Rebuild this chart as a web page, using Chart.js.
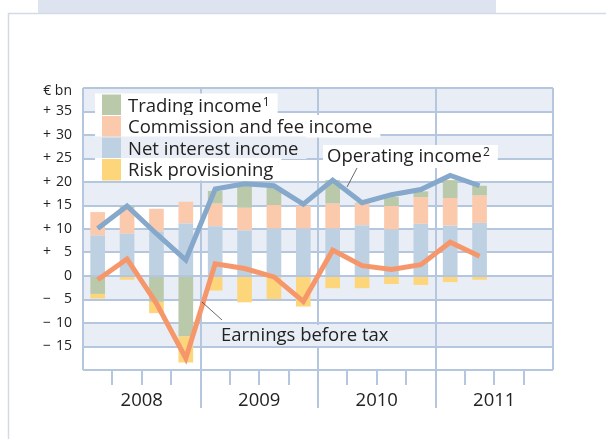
<!DOCTYPE html>
<html>
<head>
<meta charset="utf-8">
<script src="https://cdn.jsdelivr.net/npm/chart.js@4.4.1/dist/chart.umd.min.js"></script>
<style>
html, body { margin: 0; padding: 0; background: #fff; }
#wrap { position: relative; width: 606px; height: 439px; }
</style>
</head>
<body>
<div id="wrap"><canvas id="earningsChart" width="606" height="439"></canvas></div>
<script>
// quarterly figures, 2008 Q1 - 2011 Q2 (axis runs to 2011 Q4)
const quarters = ['Q1 2008', 'Q2 2008', 'Q3 2008', 'Q4 2008',
                  'Q1 2009', 'Q2 2009', 'Q3 2009', 'Q4 2009',
                  'Q1 2010', 'Q2 2010', 'Q3 2010', 'Q4 2010',
                  'Q1 2011', 'Q2 2011', 'Q3 2011', 'Q4 2011'];
const years = ['2008', '2009', '2010', '2011'];
const yTicks = [35, 30, 25, 20, 15, 10, 5, 0, -5, -10, -15];

const netInterest = [8.6, 9.0, 9.5, 11.2, 10.6, 9.7, 10.1, 10.1, 10.1, 10.8, 9.9, 11.1, 10.7, 11.3];
const commission  = [5.0, 5.4, 4.8, 4.6, 4.8, 4.8, 5.0, 4.8, 5.3, 4.6, 5.0, 5.7, 5.9, 5.8];
const trading     = [-3.8, 0.4, -5.5, -12.8, 2.7, 4.7, 3.8, 0.0, 5.0, 0.2, 1.9, 1.2, 3.8, 2.1];
const riskProv    = [-1.0, -0.8, -2.4, -5.6, -3.1, -5.6, -4.9, -6.5, -2.6, -2.6, -1.7, -1.9, -1.3, -0.8];
const operating   = [10.1, 14.9, 9.0, 3.4, 18.5, 19.6, 19.2, 15.3, 20.4, 15.6, 17.3, 18.4, 21.4, 19.2];
const earnings    = [-0.8, 3.6, -5.8, -17.5, 2.6, 1.6, -0.2, -5.4, 5.5, 2.2, 1.4, 2.4, 7.2, 4.2];

const bandColor = '#e9eef6';
const gridColor = '#b5c7df';
const textColor = '#222';
const FONT = '"Open Sans", "Noto Sans", sans-serif';
const LABEL_FONT = '18.5px ' + FONT;

// text with an optional footnote number raised after it
function drawLabel(c, text, sup, x, y) {
    c.font = LABEL_FONT;
    c.fillText(text, x, y);
    if (sup) {
        const w = c.measureText(text).width;
        c.font = '12px ' + FONT;
        c.fillText(sup, x + w + 1, y - 4);
        c.font = LABEL_FONT;
    }
}
function labelWidth(c, text, sup) {
    c.font = LABEL_FONT;
    let w = c.measureText(text).width;
    if (sup) {
        c.font = '12px ' + FONT;
        w += c.measureText(sup).width + 1;
        c.font = LABEL_FONT;
    }
    return w;
}

// backdrop: outer frame + alternating bands, axis lines, texts
const bands = {
    id: 'bands',
    beforeDraw(chart) {
        const c = chart.ctx;
        const a = chart.chartArea;
        const y = chart.scales.y;
        c.save();
        c.fillStyle = '#fff';
        c.fillRect(0, 0, chart.width, chart.height);
        c.fillStyle = '#dde4ef';
        c.fillRect(38, 0, 458, 13);
        c.strokeStyle = '#d2dae6';
        c.lineWidth = 1.5;
        c.strokeRect(8.5, 13.5, chart.width, chart.height);
        c.fillStyle = bandColor;
        for (let v = 40; v > -20; v -= 10) {
            const top = y.getPixelForValue(v);
            const bot = y.getPixelForValue(v - 5);
            c.fillRect(a.left, top, a.right - a.left, bot - top);
        }
        c.restore();
    },
    beforeDatasetsDraw(chart) {
        const c = chart.ctx;
        const a = chart.chartArea;
        const x = chart.scales.x;
        const half = (x.getPixelForValue(1) - x.getPixelForValue(0)) / 2;
        c.save();
        c.strokeStyle = gridColor;
        c.lineWidth = 2;
        for (let i = 0; i <= quarters.length; i++) {
            const px = Math.round(x.getPixelForValue(i) - half);
            c.beginPath();
            if (i === 0 || i === quarters.length) {
                c.moveTo(px, a.top); c.lineTo(px, a.bottom);
            } else if (i % 4 === 0) {
                c.moveTo(px, a.top); c.lineTo(px, a.bottom + 38);
            } else {
                c.moveTo(px, a.bottom); c.lineTo(px, a.bottom + 15);
            }
            c.stroke();
        }
        c.restore();
    },
    afterDatasetsDraw(chart) {
        const c = chart.ctx;
        const x = chart.scales.x;
        const y = chart.scales.y;
        c.save();

        // y tick labels, sign and figures in separate columns
        c.fillStyle = textColor;
        c.font = '14px ' + FONT;
        c.textBaseline = 'middle';
        yTicks.forEach(v => {
            const py = y.getPixelForValue(v);
            const sign = v > 0 ? '+' : (v < 0 ? '\u2212' : '');
            c.textAlign = 'left';
            c.fillText(sign, 43, py);
            c.textAlign = 'right';
            c.fillText(String(Math.abs(v)), 72, py);
        });
        c.textAlign = 'right';
        c.fillText('\u20ac bn', 72, 91);

        // year labels
        c.font = LABEL_FONT;
        c.textAlign = 'center';
        years.forEach((yr, k) => {
            c.fillText(yr, x.getPixelForValue(k * 4 + 1.5), 401);
        });

        // legend block
        const ds = chart.data.datasets;
        const rows = [
            { ds: ds[2], text: 'Trading income', sup: '1', bg: '#fff' },
            { ds: ds[1], text: 'Commission and fee income', sup: '', bg: '#fff' },
            { ds: ds[0], text: 'Net interest income', sup: '', bg: bandColor },
            { ds: ds[3], text: 'Risk provisioning', sup: '', bg: '#fff' }
        ];
        const rowH = 21.5;
        const top0 = 94.5;
        c.textAlign = 'left';
        rows.forEach((r, i) => {
            const ty = top0 + i * rowH;
            const w = labelWidth(c, r.text, r.sup);
            c.fillStyle = r.bg;
            c.fillRect(95, ty - 1, 128 - 95 + w + 8, rowH + 1);
            c.fillStyle = r.ds.backgroundColor;
            c.fillRect(102, ty, 19, rowH);
            c.fillStyle = textColor;
            drawLabel(c, r.text, r.sup, 128, ty + rowH / 2 + 1);
        });

        // callouts
        let w = labelWidth(c, 'Operating income', '2');
        c.fillStyle = '#fff';
        c.fillRect(323, 145, w + 12, 23);
        w = labelWidth(c, 'Earnings before tax', '');
        c.fillStyle = bandColor;
        c.fillRect(217, 325, w + 8, 21);
        c.fillStyle = textColor;
        drawLabel(c, 'Operating income', '2', 327, 157);
        drawLabel(c, 'Earnings before tax', '', 221, 336);

        c.strokeStyle = '#444';
        c.lineWidth = 0.8;
        c.beginPath();
        c.moveTo(357, 168); c.lineTo(347, 187);
        c.moveTo(202, 302); c.lineTo(222, 320);
        c.stroke();
        c.restore();
    }
};

const ctx = document.getElementById('earningsChart').getContext('2d');
const earningsChart = new Chart(ctx, {
    type: 'bar',
    data: {
        labels: quarters,
        datasets: [
            { label: 'Net interest income', data: netInterest, backgroundColor: '#bed1e3', stack: 'bars', order: 2 },
            { label: 'Commission and fee income', data: commission, backgroundColor: '#fbcaac', stack: 'bars', order: 2 },
            { label: 'Trading income', data: trading, backgroundColor: '#b9c9a9', stack: 'bars', order: 2 },
            { label: 'Risk provisioning', data: riskProv, backgroundColor: '#fdd67c', stack: 'bars', order: 2 },
            { type: 'line', label: 'Operating income', data: operating, borderColor: '#85a8cb',
              borderWidth: 5, pointRadius: 0, tension: 0, stack: 'op', order: 1 },
            { type: 'line', label: 'Earnings before tax', data: earnings, borderColor: '#f6976b',
              borderWidth: 5, pointRadius: 0, tension: 0, stack: 'ebt', order: 0 }
        ]
    },
    options: {
        responsive: false,
        animation: false,
        devicePixelRatio: 1,
        layout: { padding: { left: 83, top: 88, right: 53, bottom: 61 } },
        datasets: { bar: { barPercentage: 0.5, categoryPercentage: 1 } },
        plugins: {
            legend: { display: false },
            tooltip: { enabled: false }
        },
        scales: {
            x: {
                stacked: true,
                offset: true,
                grid: { display: false },
                ticks: { display: false },
                border: { display: false }
            },
            y: {
                stacked: true,
                min: -20,
                max: 40,
                ticks: { display: false, stepSize: 5 },
                grid: { color: gridColor, lineWidth: 2, drawTicks: false },
                border: { display: false }
            }
        }
    },
    plugins: [bands]
});
</script>
</body>
</html>
